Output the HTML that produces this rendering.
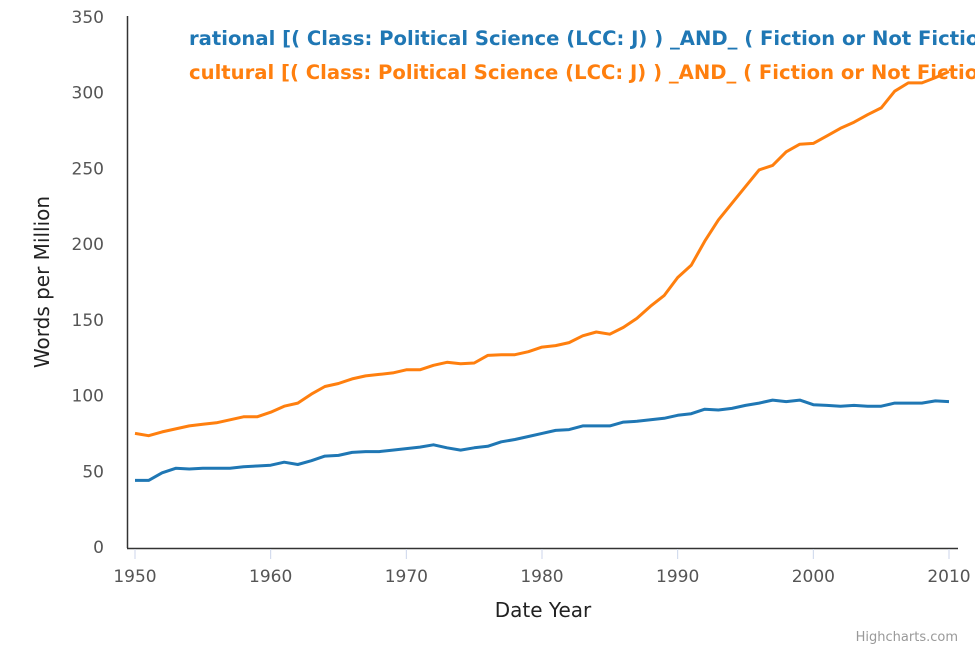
<!DOCTYPE html>
<html><head><meta charset="utf-8"><style>
html,body{margin:0;padding:0;background:#fff;overflow:hidden}
svg{display:block;font-family:"DejaVu Sans","Liberation Sans",sans-serif}
</style></head><body>
<svg id="chart" width="975" height="650" viewBox="0 0 975 650">
<g id="axes"></g>
<g id="series"></g>
<text x="189" y="45" font-size="19.6" font-weight="bold" fill="#1f77b4">rational [( Class: Political Science (LCC: J) ) _AND_ ( Fiction or Not Fiction )]</text>
<text x="189" y="79" font-size="19.6" font-weight="bold" fill="#ff7f0e">cultural [( Class: Political Science (LCC: J) ) _AND_ ( Fiction or Not Fiction )]</text>
<text transform="translate(49,282) rotate(-90)" text-anchor="middle" font-size="20" fill="#222">Words per Million</text>
<text x="543" y="617" text-anchor="middle" font-size="20" fill="#222">Date Year</text>
<text x="958" y="641" text-anchor="end" font-size="13" fill="#999">Highcharts.com</text>
</svg>
<script>
const years = [];
for (let y = 1950; y <= 2010; y++) years.push(y);
const rational = [44,44,49,52,51.5,52,52,52,53,53.5,54,56,54.5,57,60,60.5,62.5,63,63,64,65,66,67.5,65.5,64,65.5,66.5,69.5,71,73,75,77,77.5,80,80,80,82.5,83,84,85,87,88,91,90.5,91.5,93.5,95,97,96,97,94,93.5,93,93.5,93,93,95,95,95,96.5,96];
const cultural = [75,73.5,76,78,80,81,82,84,86,86,89,93,95,101,106,108,111,113,114,115,117,117,120,122,121,121.5,126.5,127,127,129,132,133,135,139.5,142,140.5,145,151,159,166,178,186,202,216,227,238,249,252,261,266,266.5,271.5,276.5,280.5,285.5,290,301,306.5,306.5,310,314];
const yTicks = [0,50,100,150,200,250,300,350];
const xTicks = [1950,1960,1970,1980,1990,2000,2010];

const NS = "http://www.w3.org/2000/svg";
const xS = v => 135 + (v - 1950) * (949 - 135) / 60;
const yS = v => 547 - v * 530 / 350;
const axes = document.getElementById('axes');
const ser = document.getElementById('series');
function mk(tag, attrs, parent) {
  const e = document.createElementNS(NS, tag);
  for (const k in attrs) e.setAttribute(k, attrs[k]);
  parent.appendChild(e);
  return e;
}
const yl = mk('line', {x1:127.5,y1:16,x2:127.5,y2:548,stroke:'#333','stroke-width':1.5}, axes);


const xl = mk('line', {x1:127,y1:548.5,x2:958,y2:548.5,stroke:'#333','stroke-width':1.5}, axes);


yTicks.forEach(t => {
  const e = mk('text', {x:104,y:yS(t)+6,'text-anchor':'end','font-size':17,fill:'#555'}, axes);
  e.textContent = t;
  
  
});
xTicks.forEach(t => {
  const tk = mk('line', {x1:xS(t),y1:549,x2:xS(t),y2:559,stroke:'#ccd6eb','stroke-width':1}, axes);
  
  
  const e = mk('text', {x:xS(t),y:582,'text-anchor':'middle','font-size':17,fill:'#555'}, axes);
  e.textContent = t;
  
  
});
function line(vals, color, name) {
  const d = vals.map((v,i) => (i ? 'L' : 'M') + xS(years[i]).toFixed(1) + ',' + yS(v).toFixed(1)).join('');
  const p = mk('path', {d:d,fill:'none',stroke:color,'stroke-width':3,'stroke-linejoin':'round'}, ser);
  
  
}
line(rational, '#1f77b4', 'rational-series-line');
line(cultural, '#ff7f0e', 'cultural-series-line');
</script>
</body></html>
